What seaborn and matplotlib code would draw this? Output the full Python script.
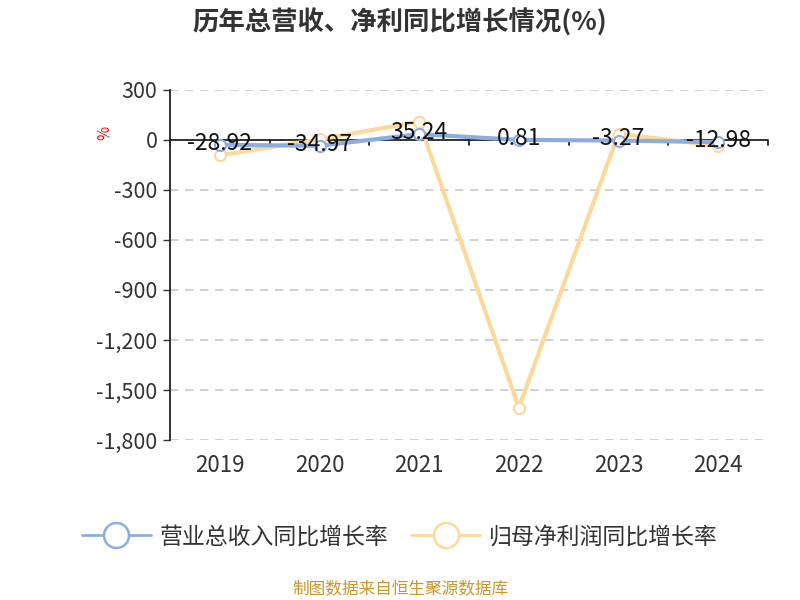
import pandas as pd
import numpy as np
import matplotlib
matplotlib.use("Agg")
import matplotlib.pyplot as plt
from matplotlib.lines import Line2D
from matplotlib.ticker import FuncFormatter
import seaborn as sns

# data
years = ['2019', '2020', '2021', '2022', '2023', '2024']
revenue_growth = [-28.92, -34.97, 35.24, 0.81, -3.27, -12.98]
profit_growth = [-92, 4, 110, -1606, 38, -36]
series_names = ['营业总收入同比增长率', '归母净利润同比增长率']
yticks = [300, 0, -300, -600, -900, -1200, -1500, -1800]

blue = '#8eaddf'
orange = '#fdd89b'

sns.set_theme(style='white')
plt.rcParams['font.family'] = ['Noto Sans CJK SC', 'DejaVu Sans']
plt.rcParams['axes.unicode_minus'] = False

df = pd.DataFrame({'year': years * 2,
                   'value': revenue_growth + profit_growth,
                   'series': [series_names[0]] * 6 + [series_names[1]] * 6})
df['x'] = np.tile(np.arange(len(years)), 2)

fig = plt.figure(figsize=(8, 6), dpi=100)
ax = fig.add_axes([0.2125, 0.2667, 0.7475, 0.5833])

sns.lineplot(data=df, x='x', y='value', hue='series', palette=[blue, orange],
             hue_order=series_names, linewidth=3, marker='o', markersize=8,
             markerfacecolor='white', markeredgewidth=1.5, legend=False,
             sort=False, ax=ax)
# marker edge colours follow their line
for line in ax.get_lines():
    line.set_markeredgecolor(line.get_color())

# revenue line on top, as in the reference
lines = ax.get_lines()
lines[0].set_zorder(4)
lines[1].set_zorder(3)

for i, v in enumerate(revenue_growth):
    ax.text(i, v + 10, f'{v:.2f}', ha='center', va='center', fontsize=16.5,
            color='#111111', zorder=6)

ax.set_xlim(-0.5, len(years) - 0.5)
ax.set_ylim(-1800, 300)
ax.set_yticks(yticks)
ax.yaxis.set_major_formatter(FuncFormatter(lambda v, p: f'{int(v):,}'))
ax.tick_params(axis='y', labelsize=15.5, colors='#333333', length=5, width=1,
               direction='out', left=True, pad=4)
ax.set_xticks(range(len(years)))
ax.set_xticklabels(years)
ax.tick_params(axis='x', labelsize=16, length=0, pad=10, colors='#333333')

for y in yticks:
    if y != 0:
        ax.axhline(y, color='#c8c8c8', linestyle=(0, (5, 4)), linewidth=1.2, zorder=0)
ax.axhline(0, color='#222222', linewidth=1.3, zorder=2)
for b in np.arange(-0.5, len(years), 1.0):
    ax.plot([b, b], [0, -30], color='#222222', linewidth=1.3, zorder=2,
            clip_on=False)

for s in ['top', 'right', 'bottom']:
    ax.spines[s].set_visible(False)
ax.spines['left'].set_color('#222222')
ax.spines['left'].set_linewidth(1.3)
ax.set_xlabel('')
ax.set_ylabel('')

fig.text(0.131, 0.778, '%', color='red', fontsize=11, rotation=90,
         ha='center', va='center')

fig.text(0.5, 0.962, '历年总营收、净利同比增长情况(%)', ha='center', va='center',
         fontsize=19, fontweight='bold', color='#333333')

handles = [Line2D([0], [0], color=blue, linewidth=2, marker='o', markersize=18,
                  markerfacecolor='white', markeredgewidth=1.8),
           Line2D([0], [0], color=orange, linewidth=2, marker='o', markersize=18,
                  markerfacecolor='white', markeredgewidth=1.8)]
fig.legend(handles, series_names, loc='center', bbox_to_anchor=(0.5, 0.105),
           ncol=2, frameon=False, fontsize=16.5, handlelength=3,
           columnspacing=1.0, handletextpad=0.4, labelcolor='#333333')

fig.text(0.5, 0.017, '制图数据来自恒生聚源数据库', ha='center', va='center',
         fontsize=12, color='#c8962a')

fig.savefig('out.png', dpi=100)
